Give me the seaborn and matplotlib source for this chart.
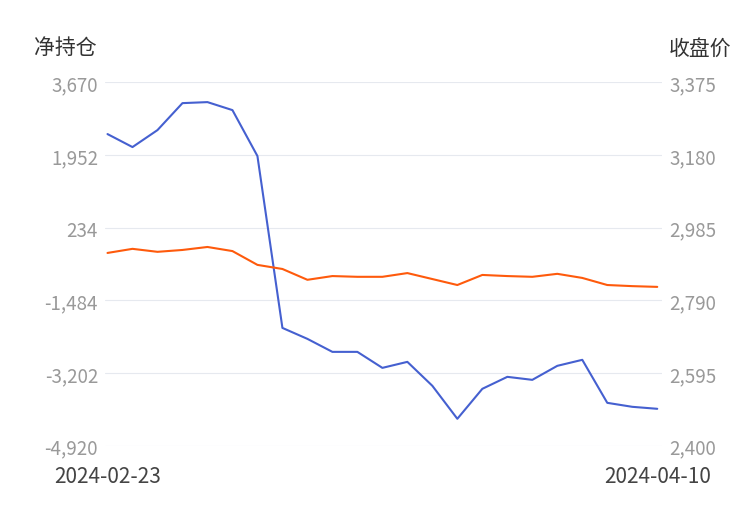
import matplotlib
matplotlib.use("Agg")
import matplotlib.pyplot as plt
import seaborn as sns
import numpy as np

sns.set_style("white")
plt.rcParams['font.family'] = ['Noto Sans CJK SC', 'DejaVu Sans']

net_position = [2443, 2136, 2537, 3174, 3198, 3009, 1924, -2136, -2395, -2702, -2702,
                -3080, -2938, -3504, -4283, -3575, -3292, -3363, -3032, -2890, -3906, -4000, -4047]
close_price = [2917, 2928, 2920, 2925, 2933, 2922, 2885, 2874, 2845, 2855, 2853, 2853,
               2863, 2847, 2831, 2858, 2855, 2853, 2861, 2850, 2831, 2828, 2826]
left_ticks = [-4920, -3202, -1484, 234, 1952, 3670]
right_ticks = [2400, 2595, 2790, 2985, 3180, 3375]
date_labels = ["2024-02-23", "2024-04-10"]

x = np.arange(len(net_position))
fig = plt.figure(figsize=(7.5, 5.1), dpi=100)
ax = fig.add_axes([0.14, 0.124, 0.743, 0.713])
ax2 = ax.twinx()

sns.lineplot(x=x, y=net_position, ax=ax, color="#4560d0", linewidth=1.5)
sns.lineplot(x=x, y=close_price, ax=ax2, color="#fe5a0c", linewidth=1.5)

ax.set_ylim(left_ticks[0], left_ticks[-1])
ax2.set_ylim(right_ticks[0], right_ticks[-1])
ax.set_xlim(-0.1, 22.2)
ax.set_yticks(left_ticks)
ax.set_yticklabels([f"{v:,}" for v in left_ticks])
ax2.set_yticks(right_ticks)
ax2.set_yticklabels([f"{v:,}" for v in right_ticks])
ax.grid(axis='y', color="#e6e9ef", linewidth=0.8)
ax.set_xticks([0, len(x) - 1])
ax.set_xticklabels(date_labels)
ax.tick_params(axis='x', length=0, labelsize=15, labelcolor="#444444", pad=14)
ax.tick_params(axis='y', length=0, labelsize=13.5, labelcolor="#999999", pad=5)
ax2.tick_params(axis='y', length=0, labelsize=13.5, labelcolor="#999999", pad=5)
for a in (ax, ax2):
    for s in a.spines.values():
        s.set_visible(False)
ax.set_ylabel("")
ax2.set_ylabel("")
fig.text(0.045, 0.905, "净持仓", fontsize=15, color="#333333", va='center')
fig.text(0.975, 0.905, "收盘价", fontsize=15, color="#333333", va='center', ha='right')
fig.savefig("out.png", dpi=100)
